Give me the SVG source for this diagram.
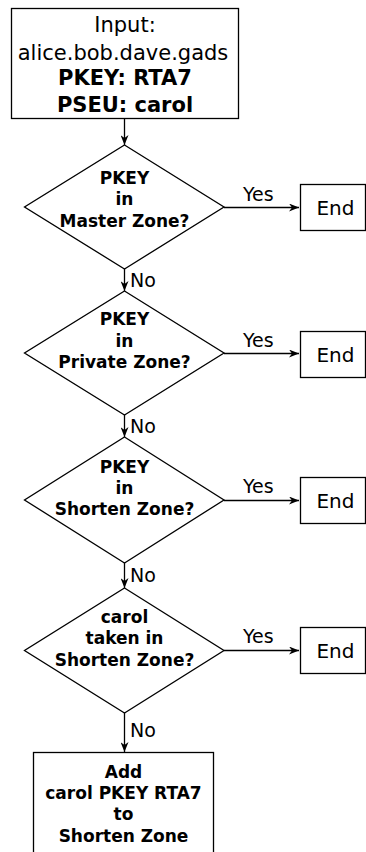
<svg xmlns="http://www.w3.org/2000/svg" width="366" height="852" viewBox="0 0 366 852">
  <style>
    .shape { fill: #ffffff; stroke: #000000; stroke-width: 1.3; }
    .edge { fill: none; stroke: #000000; stroke-width: 1.3; }
    .reg { font-family: "DejaVu Sans", "Liberation Sans", sans-serif; font-size: 21px; fill: #000000; text-anchor: middle; }
    .end { font-family: "DejaVu Sans", "Liberation Sans", sans-serif; font-size: 20px; fill: #000000; text-anchor: middle; }
    .big { font-family: "DejaVu Sans", "Liberation Sans", sans-serif; font-size: 21px; font-weight: bold; fill: #000000; text-anchor: middle; }
    .cond { font-family: "DejaVu Sans", "Liberation Sans", sans-serif; font-size: 17px; font-weight: bold; fill: #000000; text-anchor: middle; }
    .lbl { font-family: "DejaVu Sans", "Liberation Sans", sans-serif; font-size: 19px; fill: #000000; }
  </style>
  <defs>
    <marker id="arrow" viewBox="0 0 10 8" refX="10" refY="4" markerWidth="10" markerHeight="8" markerUnits="userSpaceOnUse" orient="auto">
      <path d="M0,0 L10,4 L0,8 L3,4 Z" fill="#000000"/>
    </marker>
  </defs>

  <!-- input -->
  <g id="input">
    <rect class="shape" x="11.5" y="8.5" width="227" height="110"/>
    <text class="reg" x="125" y="31.5">Input:</text>
    <text class="reg" x="123" y="59.5">alice.bob.dave.gads</text>
    <text class="big" x="125" y="85">PKEY: RTA7</text>
    <text class="big" x="125" y="111.5">PSEU: carol</text>
  </g>

  <!-- decisions -->
  <g id="master">
    <polygon class="shape" points="124.5,145 224,207 124.5,269 24.5,207"/>
    <text class="cond" x="124.5" y="184">PKEY</text>
    <text class="cond" x="124.5" y="205">in</text>
    <text class="cond" x="124.5" y="227">Master Zone?</text>
  </g>
  <g id="private">
    <polygon class="shape" points="124.5,291 224,353 124.5,415 24.5,353"/>
    <text class="cond" x="124.5" y="325">PKEY</text>
    <text class="cond" x="124.5" y="347">in</text>
    <text class="cond" x="124.5" y="368">Private Zone?</text>
  </g>
  <g id="shorten">
    <polygon class="shape" points="124.5,437 224,500 124.5,563 24.5,500"/>
    <text class="cond" x="124.5" y="473">PKEY</text>
    <text class="cond" x="124.5" y="494">in</text>
    <text class="cond" x="124.5" y="515">Shorten Zone?</text>
  </g>
  <g id="taken">
    <polygon class="shape" points="124.5,588 224,650.5 124.5,713 24.5,650.5"/>
    <text class="cond" x="124.5" y="623">carol</text>
    <text class="cond" x="124.5" y="644">taken in</text>
    <text class="cond" x="124.5" y="666">Shorten Zone?</text>
  </g>

  <!-- end boxes -->
  <g id="end1">
    <rect class="shape" x="300.5" y="184.5" width="65" height="46"/>
    <text class="end" x="335.5" y="215">End</text>
  </g>
  <g id="end2">
    <rect class="shape" x="300.5" y="331.5" width="65" height="46"/>
    <text class="end" x="335.5" y="362">End</text>
  </g>
  <g id="end3">
    <rect class="shape" x="300.5" y="477.5" width="65" height="46"/>
    <text class="end" x="335.5" y="507.5">End</text>
  </g>
  <g id="end4">
    <rect class="shape" x="300.5" y="627.5" width="65" height="46"/>
    <text class="end" x="335.5" y="658">End</text>
  </g>

  <!-- final action -->
  <g id="add">
    <rect class="shape" x="33.5" y="752.5" width="180" height="110"/>
    <text class="cond" x="123.5" y="778">Add</text>
    <text class="cond" x="123.5" y="799">carol PKEY RTA7</text>
    <text class="cond" x="123.5" y="820">to</text>
    <text class="cond" x="123.5" y="842">Shorten Zone</text>
  </g>

  <!-- connectors -->
  <g id="connectors">
    <line class="edge" x1="124.5" y1="119" x2="124.5" y2="145" marker-end="url(#arrow)"/>
    <line class="edge" x1="124.5" y1="269" x2="124.5" y2="291" marker-end="url(#arrow)"/>
    <line class="edge" x1="124.5" y1="415" x2="124.5" y2="437" marker-end="url(#arrow)"/>
    <line class="edge" x1="124.5" y1="563" x2="124.5" y2="588" marker-end="url(#arrow)"/>
    <line class="edge" x1="124.5" y1="713" x2="124.5" y2="752" marker-end="url(#arrow)"/>
    <line class="edge" x1="224" y1="207.5" x2="299" y2="207.5" marker-end="url(#arrow)"/>
    <line class="edge" x1="224" y1="353.5" x2="299" y2="353.5" marker-end="url(#arrow)"/>
    <line class="edge" x1="224" y1="500.5" x2="299" y2="500.5" marker-end="url(#arrow)"/>
    <line class="edge" x1="224" y1="650.5" x2="299" y2="650.5" marker-end="url(#arrow)"/>
    <text class="lbl" x="243" y="201">Yes</text>
    <text class="lbl" x="243" y="347">Yes</text>
    <text class="lbl" x="243" y="493">Yes</text>
    <text class="lbl" x="243" y="643">Yes</text>
    <text class="lbl" x="130" y="287">No</text>
    <text class="lbl" x="130" y="433">No</text>
    <text class="lbl" x="130" y="582">No</text>
    <text class="lbl" x="130" y="737">No</text>
  </g>
</svg>
